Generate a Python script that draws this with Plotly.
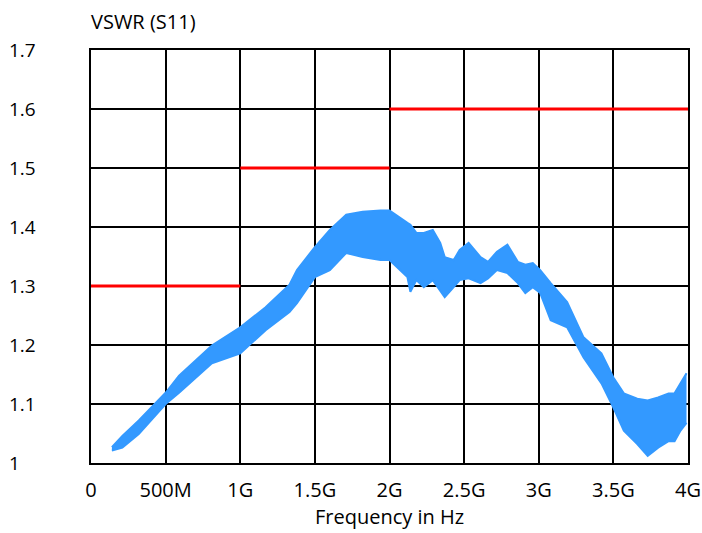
import plotly.graph_objects as go

# Frequency (GHz) and VSWR band edges
freq_ghz = [0.14, 0.21, 0.32, 0.50, 0.59, 0.81, 1.00, 1.17, 1.33, 1.38, 1.50, 1.60, 1.71, 1.82,
            1.94, 2.00, 2.12, 2.14, 2.18, 2.23, 2.29, 2.34, 2.37, 2.43, 2.47, 2.53, 2.61, 2.66,
            2.72, 2.79, 2.86, 2.91, 2.96, 3.01, 3.08, 3.19, 3.30, 3.42, 3.50, 3.57, 3.66, 3.73,
            3.80, 3.87, 3.91, 3.95, 3.99]
vswr_upper = [1.027, 1.046, 1.072, 1.119, 1.148, 1.199, 1.230, 1.264, 1.302, 1.327, 1.366, 1.395,
              1.421, 1.426, 1.428, 1.428, 1.407, 1.404, 1.390, 1.390, 1.395, 1.373, 1.349, 1.344,
              1.361, 1.373, 1.349, 1.341, 1.358, 1.370, 1.341, 1.336, 1.339, 1.327, 1.305, 1.273,
              1.213, 1.186, 1.145, 1.118, 1.109, 1.106, 1.111, 1.118, 1.118, 1.135, 1.152]
vswr_lower = [1.021, 1.026, 1.049, 1.100, 1.119, 1.169, 1.186, 1.225, 1.256, 1.271, 1.315, 1.327,
              1.356, 1.349, 1.344, 1.344, 1.315, 1.290, 1.310, 1.298, 1.310, 1.293, 1.281, 1.298,
              1.310, 1.313, 1.305, 1.313, 1.327, 1.322, 1.305, 1.288, 1.298, 1.288, 1.242, 1.230,
              1.179, 1.135, 1.094, 1.055, 1.032, 1.012, 1.026, 1.037, 1.037, 1.055, 1.068]

# Limit lines: (start GHz, end GHz, VSWR)
limit_start = [0.0, 1.0, 2.0]
limit_end = [1.0, 2.0, 4.0]
limit_value = [1.3, 1.5, 1.6]

x_tickvals = [0, 0.5e9, 1e9, 1.5e9, 2e9, 2.5e9, 3e9, 3.5e9, 4e9]
x_ticktext = ["0", "500M", "1G", "1.5G", "2G", "2.5G", "3G", "3.5G", "4G"]
y_tickvals = [1.0, 1.1, 1.2, 1.3, 1.4, 1.5, 1.6, 1.7]
y_ticktext = ["1", "1.1", "1.2", "1.3", "1.4", "1.5", "1.6", "1.7"]

FONT = "Open Sans"
FS = 20
BLUE = "#3399FF"

freq_hz = [f * 1e9 for f in freq_ghz]

fig = go.Figure()
fig.add_trace(go.Scatter(x=freq_hz, y=vswr_lower, mode="lines",
                         line=dict(color=BLUE, width=2), showlegend=False, hoverinfo="skip"))
fig.add_trace(go.Scatter(x=freq_hz, y=vswr_upper, mode="lines", fill="tonexty",
                         fillcolor=BLUE, line=dict(color=BLUE, width=2),
                         showlegend=False, hoverinfo="skip"))

for s, e, v in zip(limit_start, limit_end, limit_value):
    fig.add_trace(go.Scatter(x=[s * 1e9, e * 1e9], y=[v, v], mode="lines",
                             line=dict(color="#FF0000", width=3), showlegend=False,
                             hoverinfo="skip"))

annotations = []
for v, t in zip(y_tickvals, y_ticktext):
    annotations.append(dict(x=-0.14, xref="paper", y=v, yref="y", text=t,
                            showarrow=False, xanchor="left", yanchor="middle",
                            font=dict(family=FONT, size=19, color="#000")))

fig.update_layout(
    width=702, height=533,
    margin=dict(l=91, r=14, t=50, b=70),
    paper_bgcolor="white", plot_bgcolor="white",
    font=dict(family=FONT, size=FS, color="#000"),
    title=dict(text="VSWR (S11)", x=0, xref="paper", xanchor="left",
               y=1 - 22 / 533, yanchor="middle",
               font=dict(family=FONT, size=FS, color="#000")),
    annotations=annotations,
    xaxis=dict(range=[0, 4e9], tickvals=x_tickvals, ticktext=x_ticktext,
               showgrid=True, gridcolor="#000", gridwidth=1.5,
               showline=True, linecolor="#000", linewidth=2, mirror=True,
               zeroline=False, ticks="", ticklabelstandoff=8, automargin=False,
               title=dict(text="Frequency in Hz", standoff=5,
                          font=dict(family=FONT, size=FS, color="#000")),
               tickfont=dict(family=FONT, size=FS, color="#000")),
    yaxis=dict(range=[1.0, 1.7], tickvals=y_tickvals, showticklabels=False,
               showgrid=True, gridcolor="#000", gridwidth=1.5,
               showline=True, linecolor="#000", linewidth=2, mirror=True,
               zeroline=False, ticks="", automargin=False),
)

fig.write_html("out.html")
